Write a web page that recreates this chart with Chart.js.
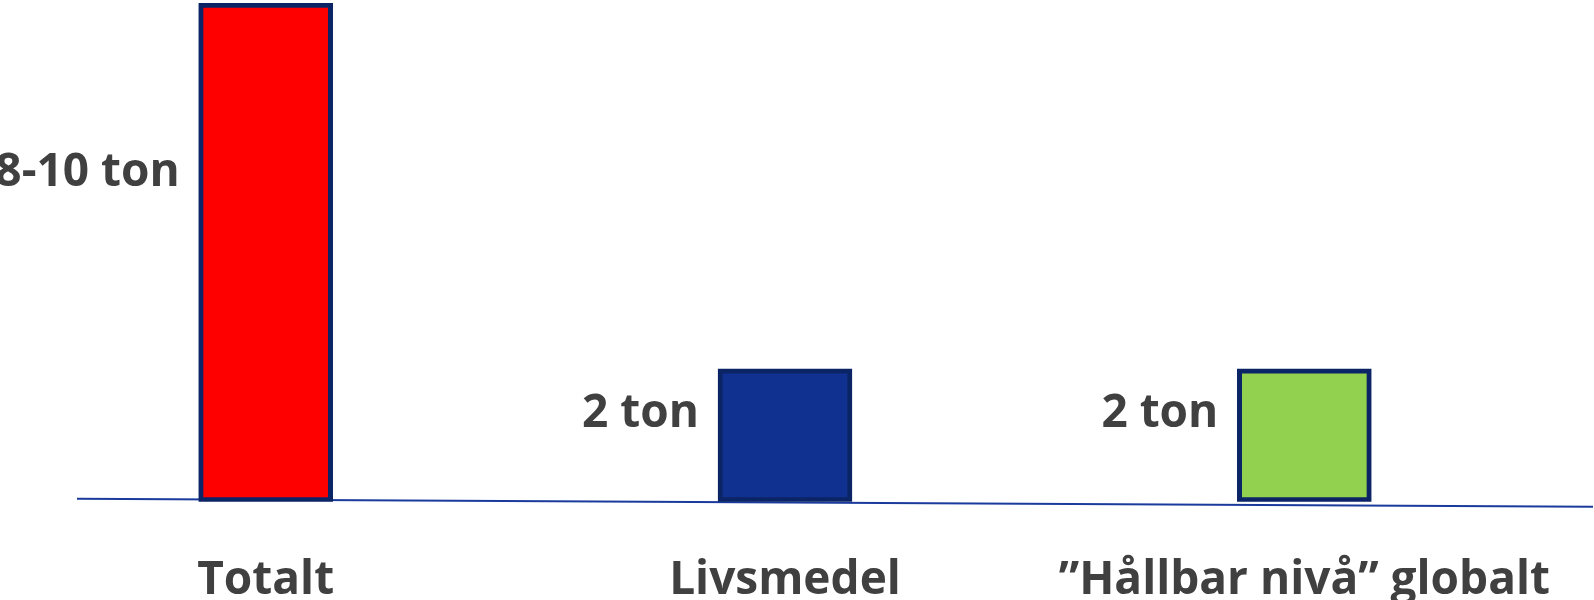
<!DOCTYPE html>
<html>
<head>
<meta charset="utf-8">
<script src="https://cdn.jsdelivr.net/npm/chart.js@4.4.1/dist/chart.umd.min.js"></script>
<style>
  html, body { margin: 0; padding: 0; background: #fff; overflow: hidden; }
  #wrap { width: 1594px; height: 600px; }
  canvas { display: block; }
</style>
</head>
<body>
<div id="wrap"><canvas id="chart"></canvas></div>
<script>
  const categories = ['Totalt', 'Livsmedel', '\u201DH\u00E5llbar niv\u00E5\u201D globalt'];
  const values = [9, 2.4, 2.4];
  const valueLabels = ['8-10 ton', '2 ton', '2 ton'];
  const barColors = ['#FF0000', '#10318F', '#92D050'];

  const textColor = '#404040';
  const fontFamily = '"Open Sans", "Liberation Sans", sans-serif';

  // slanted baseline under the bars
  const baseline = {
    id: 'baseline',
    beforeDatasetsDraw(chart) {
      const { ctx, chartArea, scales } = chart;
      const y0 = scales.y.getPixelForValue(0);
      ctx.save();
      ctx.strokeStyle = '#1A3A9C';
      ctx.lineWidth = 2;
      ctx.beginPath();
      ctx.moveTo(chartArea.left + 71, y0 - 3);
      ctx.lineTo(chartArea.right + 29, y0 + 5);
      ctx.stroke();
      ctx.restore();
    }
  };

  // value text to the left of each bar
  const sideLabels = {
    id: 'sideLabels',
    afterDatasetsDraw(chart) {
      const { ctx } = chart;
      const meta = chart.getDatasetMeta(0);
      ctx.save();
      ctx.fillStyle = textColor;
      ctx.font = 'bold 46px ' + fontFamily;
      ctx.textAlign = 'right';
      ctx.textBaseline = 'middle';
      meta.data.forEach((bar, i) => {
        const y = bar.base - 0.66 * (bar.base - bar.y);
        ctx.fillText(valueLabels[i], bar.x - bar.width / 2 - 19, y);
      });
      ctx.restore();
    }
  };

  new Chart(document.getElementById('chart'), {
    type: 'bar',
    data: {
      labels: categories,
      datasets: [{
        data: values,
        backgroundColor: barColors,
        borderColor: '#0B2466',
        borderWidth: 5,
        borderSkipped: false,
        barThickness: 134
      }]
    },
    options: {
      responsive: true,
      maintainAspectRatio: false,
      animation: false,
      layout: { padding: { top: 3, left: 6, right: 30, bottom: -51 } },
      plugins: { legend: { display: false }, tooltip: { enabled: false } },
      scales: {
        x: {
          grid: { display: false },
          border: { display: false },
          afterFit(scale) {
            // let the long last label hang past the bars, like the original
            scale.paddingLeft = 0;
            scale.paddingRight = 0;
          },
          ticks: {
            color: textColor,
            font: { family: fontFamily, size: 46, weight: 'bold' },
            padding: 43,
            maxRotation: 0,
            autoSkip: false
          }
        },
        y: {
          display: false,
          min: 0,
          max: 9
        }
      }
    },
    plugins: [baseline, sideLabels]
  });
</script>
</body>
</html>
